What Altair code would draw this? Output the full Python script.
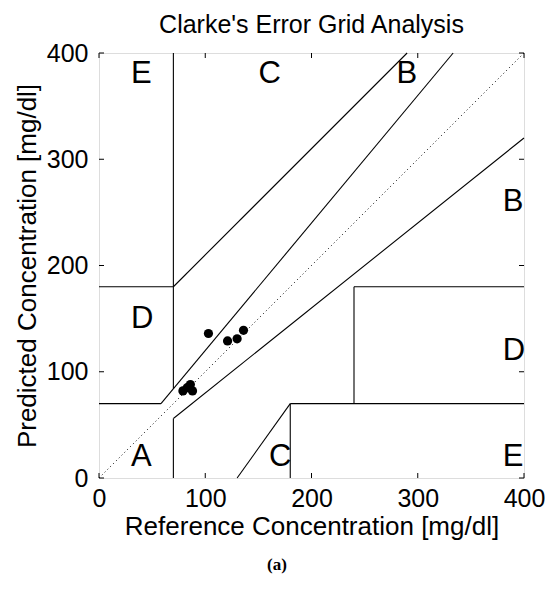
import altair as alt
import pandas as pd

# Clarke error grid zone boundaries (segments)
seg_x1 = [0, 175 / 3, 70, 0, 70, 70, 70, 180, 180, 240, 240, 130]
seg_y1 = [70, 70, 84, 180, 180, 0, 56, 0, 70, 70, 180, 0]
seg_x2 = [175 / 3, 400 / 1.2, 70, 70, 290, 70, 400, 180, 400, 240, 400, 180]
seg_y2 = [70, 400, 400, 180, 400, 56, 320, 70, 70, 180, 180, 70]

# identity diagonal
diag_x1 = [0]
diag_y1 = [0]
diag_x2 = [400]
diag_y2 = [400]

# measured points
ref_vals = [103, 121, 130, 136, 79, 86, 88, 83]
pred_vals = [136, 129, 131, 139, 82, 88, 82, 85]

# zone labels
lab_text = ["A", "D", "E", "C", "C", "E", "D", "B", "B"]
lab_x = [30, 30, 30, 150, 160, 380, 380, 380, 280]
lab_y = [20, 150, 380, 380, 20, 20, 120, 260, 380]

tick_values = [0, 100, 200, 300, 400]

segs = pd.DataFrame({"x1": seg_x1, "y1": seg_y1, "x2": seg_x2, "y2": seg_y2})
diag = pd.DataFrame({"x1": diag_x1, "y1": diag_y1, "x2": diag_x2, "y2": diag_y2})
pts = pd.DataFrame({"ref": ref_vals, "pred": pred_vals})
labs = pd.DataFrame({"t": lab_text, "x": lab_x, "y": lab_y})
ticks = pd.DataFrame({"v": tick_values})

FONT = "Liberation Sans"
xs = alt.Scale(domain=[0, 400], nice=False, zero=False)
ys = alt.Scale(domain=[0, 400], nice=False, zero=False)

xaxis = alt.Axis(values=tick_values, ticks=False, domain=False, grid=False,
                 labelFontSize=25, labelFont=FONT, labelColor="black",
                 labelPadding=8, title="Reference Concentration [mg/dl]",
                 titleFontSize=26, titleFont=FONT, titleFontWeight="normal",
                 titleColor="black", titlePadding=2, labelFlush=False)
yaxis = alt.Axis(values=tick_values, ticks=False, domain=False, grid=False,
                 labelFontSize=25, labelFont=FONT, labelColor="black",
                 labelPadding=11, title="Predicted Concentration [mg/dl]",
                 titleFontSize=26, titleFont=FONT, titleFontWeight="normal",
                 titleColor="black", titlePadding=6, labelFlush=False)

base_axes = alt.Chart(pts).mark_point(opacity=0).encode(
    x=alt.X("ref:Q", scale=xs, axis=xaxis),
    y=alt.Y("pred:Q", scale=ys, axis=yaxis),
)

lines = alt.Chart(segs).mark_rule(color="black", strokeWidth=1.1).encode(
    x=alt.X("x1:Q", scale=xs), y=alt.Y("y1:Q", scale=ys),
    x2="x2:Q", y2="y2:Q",
)

dline = alt.Chart(diag).mark_rule(color="black", strokeWidth=1, strokeDash=[1, 3]).encode(
    x=alt.X("x1:Q", scale=xs), y=alt.Y("y1:Q", scale=ys),
    x2="x2:Q", y2="y2:Q",
)

points = alt.Chart(pts).mark_circle(color="black", size=85, opacity=1).encode(
    x=alt.X("ref:Q", scale=xs), y=alt.Y("pred:Q", scale=ys),
)

labels = alt.Chart(labs).mark_text(font=FONT, fontSize=31, align="left",
                                   baseline="middle", color="black").encode(
    x=alt.X("x:Q", scale=xs), y=alt.Y("y:Q", scale=ys), text="t:N",
)

TL = 5
tick_b = alt.Chart(ticks).mark_rule(color="black").encode(
    x=alt.X("v:Q", scale=xs), y=alt.value(425), y2=alt.value(425 - TL))
tick_t = alt.Chart(ticks).mark_rule(color="black").encode(
    x=alt.X("v:Q", scale=xs), y=alt.value(0), y2=alt.value(TL))
tick_l = alt.Chart(ticks).mark_rule(color="black").encode(
    y=alt.Y("v:Q", scale=ys), x=alt.value(0), x2=alt.value(TL))
tick_r = alt.Chart(ticks).mark_rule(color="black").encode(
    y=alt.Y("v:Q", scale=ys), x=alt.value(425), x2=alt.value(425 - TL))

caption = alt.Chart(pd.DataFrame({"c": ["(a)"]})).mark_text(
    font="Liberation Serif", fontSize=17, fontWeight="bold", color="black",
    align="center", baseline="middle").encode(
    text="c:N", x=alt.value(178), y=alt.value(512))

chart = alt.layer(base_axes, dline, lines, points, labels,
                  tick_b, tick_t, tick_l, tick_r, caption).properties(
    width=425, height=425,
    title=alt.TitleParams("Clarke's Error Grid Analysis", fontSize=25, font=FONT,
                          fontWeight="normal", color="black", offset=3),
    autosize=alt.AutoSizeParams(type="none"),
    padding={"left": 91, "top": 45, "right": 21, "bottom": 110},
).configure_view(stroke="black", strokeWidth=1.2).configure(background="white")

chart.save("out.html", embed_options={"renderer": "svg", "actions": False})
